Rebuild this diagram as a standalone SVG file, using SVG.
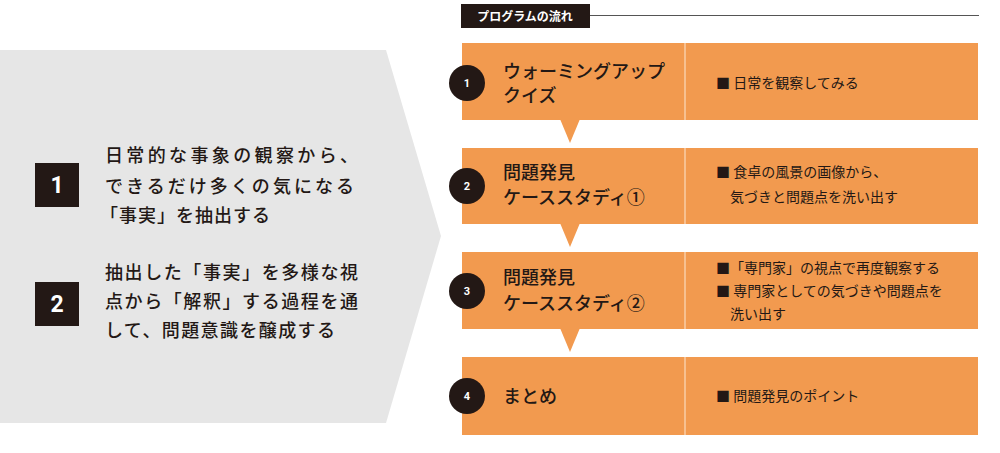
<svg xmlns="http://www.w3.org/2000/svg" width="1000" height="453" viewBox="0 0 1000 453">
<style>
.jp{font-family:"Noto Sans CJK JP","Noto Sans",sans-serif;fill:#231815}
.box{fill:#F29A4F}
.div{stroke:#F8CCA6;stroke-width:1.5}
.circ{fill:#231815}
.cnum{font-family:Roboto,"Liberation Sans",sans-serif;font-weight:700;font-size:11px;fill:#fff}
.ttl{font-size:18px;font-weight:500}
.desc{font-size:14px}
.lt{font-size:18px;font-weight:500}
.sq{fill:#231815}
.snum{font-family:Roboto,"Liberation Sans",sans-serif;font-weight:700;font-size:23px;fill:#fff}
.arrow{fill:#F29A4F}
</style>
<rect width="1000" height="453" fill="#fff"/>

<g id="goals">
  <polygon points="0,50 386,50 441,236 386,423 0,423" fill="#E6E6E6"/>
  <g id="goal1">
    <rect class="sq" x="35" y="163" width="44" height="44"/>
    <text class="snum" x="57" y="193" text-anchor="middle">1</text>
    <text class="jp lt" x="105" y="162" textLength="253" lengthAdjust="spacing">日常的な事象の観察から、</text>
    <text class="jp lt" x="105" y="193" textLength="249" lengthAdjust="spacing">できるだけ多くの気になる</text>
    <text class="jp lt" x="100" y="222" textLength="170" lengthAdjust="spacing">「事実」を抽出する</text>
  </g>
  <g id="goal2">
    <rect class="sq" x="35" y="282" width="44" height="44"/>
    <text class="snum" x="57" y="312" text-anchor="middle">2</text>
    <text class="jp lt" x="105" y="279" textLength="253" lengthAdjust="spacing">抽出した「事実」を多様な視</text>
    <text class="jp lt" x="105" y="308" textLength="253" lengthAdjust="spacing">点から「解釈」する過程を通</text>
    <text class="jp lt" x="105" y="337" textLength="230" lengthAdjust="spacing">して、問題意識を醸成する</text>
  </g>
</g>

<g id="header">
  <rect x="461" y="4" width="129" height="24" fill="#231815"/>
  <text x="525" y="21" text-anchor="middle" font-family="Noto Sans CJK JP, sans-serif" font-weight="700" font-size="12" fill="#fff">プログラムの流れ</text>
  <line x1="590" y1="15.5" x2="979" y2="15.5" stroke="#555" stroke-width="1"/>
</g>

<g id="connectors">
  <polygon class="arrow" points="560,119 580,119 570,143"/>
  <polygon class="arrow" points="560,223 580,223 570,247"/>
  <polygon class="arrow" points="560,328 580,328 570,352"/>
</g>

<g id="step1">
  <rect class="box" x="462" y="43" width="516" height="77"/>
  <line class="div" x1="685" y1="43" x2="685" y2="120"/>
  <circle class="circ" cx="467" cy="83" r="18"/>
  <text class="cnum" x="467" y="87" text-anchor="middle">1</text>
  <text class="jp ttl" x="503" y="78">ウォーミングアップ</text>
  <text class="jp ttl" x="503" y="102">クイズ</text>
  <text class="jp desc" x="716" y="88">■ 日常を観察してみる</text>
</g>

<g id="step2">
  <rect class="box" x="462" y="148" width="516" height="76"/>
  <line class="div" x1="685" y1="148" x2="685" y2="224"/>
  <circle class="circ" cx="467" cy="186" r="18"/>
  <text class="cnum" x="467" y="190" text-anchor="middle">2</text>
  <text class="jp ttl" x="503" y="179">問題発見</text>
  <text class="jp ttl" x="503" y="204">ケーススタディ①</text>
  <text class="jp desc" x="716" y="177">■ 食卓の風景の画像から、</text>
  <text class="jp desc" x="730" y="202">気づきと問題点を洗い出す</text>
</g>

<g id="step3">
  <rect class="box" x="462" y="252" width="516" height="77"/>
  <line class="div" x1="685" y1="252" x2="685" y2="329"/>
  <circle class="circ" cx="467" cy="291" r="18"/>
  <text class="cnum" x="467" y="295" text-anchor="middle">3</text>
  <text class="jp ttl" x="503" y="284">問題発見</text>
  <text class="jp ttl" x="503" y="310">ケーススタディ②</text>
  <text class="jp desc" x="716" y="273">■「専門家」の視点で再度観察する</text>
  <text class="jp desc" x="716" y="296">■ 専門家としての気づきや問題点を</text>
  <text class="jp desc" x="730" y="319">洗い出す</text>
</g>

<g id="step4">
  <rect class="box" x="462" y="357" width="516" height="78"/>
  <line class="div" x1="685" y1="357" x2="685" y2="435"/>
  <circle class="circ" cx="467" cy="396" r="18"/>
  <text class="cnum" x="467" y="400" text-anchor="middle">4</text>
  <text class="jp ttl" x="503" y="403">まとめ</text>
  <text class="jp desc" x="716" y="401">■ 問題発見のポイント</text>
</g>
</svg>
